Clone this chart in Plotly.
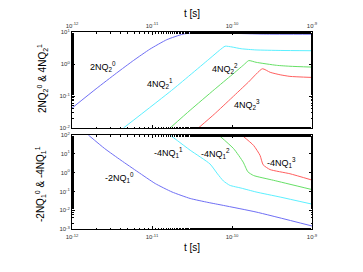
import plotly.graph_objects as go

# ---------- data ----------
# top panel: 2NQ2^0 and 4NQ2^n
t_top0 = [1.0e-12, 2.0e-12, 3.6e-12, 5.9e-12, 9.4e-12, 1.53e-11, 2.45e-11, 3.6e-11, 5.0e-11, 1.0e-10, 2.5e-10, 1.0e-9]
y_top0 = [0.042, 0.168, 0.52, 1.3, 2.9, 5.75, 8.6, 9.6, 9.6, 9.1, 8.6, 8.5]

t_top1 = [4.4e-12, 1.76e-11, 5.3e-11, 7.0e-11, 8.2e-11, 1.0e-10, 1.3e-10, 2.0e-10, 4.0e-10, 1.0e-9]
y_top1 = [0.01, 0.15, 1.5, 2.7, 3.6, 3.4, 3.0, 2.75, 2.65, 2.6]

t_top2 = [1.68e-11, 3.0e-11, 6.0e-11, 1.0e-10, 1.4e-10, 1.62e-10, 2.0e-10, 3.6e-10, 5.3e-10, 1.0e-9]
y_top2 = [0.01, 0.036, 0.158, 0.46, 0.94, 1.28, 1.13, 0.91, 0.85, 0.80]

t_top3 = [3.8e-11, 6.0e-11, 1.0e-10, 1.6e-10, 2.4e-10, 3.0e-10, 4.0e-10, 5.3e-10, 1.0e-9]
y_top3 = [0.01, 0.027, 0.089, 0.27, 0.71, 0.55, 0.46, 0.41, 0.38]

# bottom panel: -2NQ1^0 and -4NQ1^n
t_bot0 = [1.6e-12, 2.56e-12, 4.1e-12, 6.7e-12, 1.1e-11, 1.78e-11, 3.0e-11, 5.0e-11, 7.8e-11, 2.0e-10, 1.0e-9]
y_bot0 = [100, 19, 4.5, 1.07, 0.26, 0.093, 0.042, 0.026, 0.018, 0.008, 0.00145]

t_bot1 = [1.68e-11, 3.0e-11, 5.3e-11, 6.6e-11, 7.8e-11, 9.4e-11, 1.3e-10, 2.0e-10, 4.0e-10, 1.0e-9]
y_bot1 = [100, 15.5, 2.9, 0.85, 0.36, 0.21, 0.15, 0.093, 0.05, 0.021]

t_bot2 = [6.8e-11, 1.05e-10, 1.38e-10, 1.58e-10, 1.86e-10, 3.3e-10, 1.0e-9]
y_bot2 = [100, 18.6, 3.6, 1.1, 0.7, 0.39, 0.125]

t_bot3 = [1.32e-10, 1.86e-10, 2.24e-10, 2.45e-10, 2.99e-10, 5.3e-10, 1.0e-9]
y_bot3 = [100, 28, 8.3, 2.6, 1.45, 0.87, 0.4]

x_ticks = [1e-12, 1e-11, 1e-10, 1e-9]
x_ticklabels = ["10<sup>-12</sup>", "10<sup>-11</sup>", "10<sup>-10</sup>", "10<sup>-9</sup>"]
y_ticks_top = [1e-2, 1e-1, 1e0, 1e1]
y_ticklabels_top = ["10<sup>-2</sup>", "10<sup>-1</sup>", "10<sup>0</sup>", "10<sup>1</sup>"]
y_ticks_bot = [1e-3, 1e-2, 1e-1, 1e0, 1e1, 1e2]
y_ticklabels_bot = ["10<sup>-3</sup>", "10<sup>-2</sup>", "10<sup>-1</sup>", "10<sup>0</sup>",
                    "10<sup>1</sup>", "10<sup>2</sup>"]

colors = ["#6f6ff5", "#5cf0ff", "#66e066", "#ff5f5f"]

# ---------- figure ----------
W, H = 363, 272
fig = go.Figure()

for t, y, c in zip([t_top0, t_top1, t_top2, t_top3], [y_top0, y_top1, y_top2, y_top3], colors):
    fig.add_trace(go.Scatter(x=t, y=y, mode="lines", xaxis="x2", yaxis="y2",
                             line=dict(color=c, width=1, shape="spline", smoothing=0.5),
                             showlegend=False, hoverinfo="skip"))
for t, y, c in zip([t_bot0, t_bot1, t_bot2, t_bot3], [y_bot0, y_bot1, y_bot2, y_bot3], colors):
    fig.add_trace(go.Scatter(x=t, y=y, mode="lines", xaxis="x", yaxis="y",
                             line=dict(color=c, width=1, shape="spline", smoothing=0.5),
                             showlegend=False, hoverinfo="skip"))

def px_x(x):
    return x / W

def px_y(y):
    return 1 - y / H

font = "Liberation Sans, Arial, sans-serif"
tickfont = dict(size=6, color="#333", family=font)
minor = dict(ticks="inside", ticklen=1.5, tickcolor="black", tickwidth=0.6, showgrid=False)
common_axis = dict(type="log", showline=True, linecolor="black", linewidth=1, mirror="allticks",
                   ticks="inside", ticklen=3, tickcolor="black", tickwidth=0.8,
                   showgrid=False, zeroline=False, tickfont=tickfont, minor=minor,
                   automargin=False)

xdom = [px_x(72), px_x(312)]
fig.update_layout(
    width=W, height=H, margin=dict(l=0, r=0, t=0, b=0),
    paper_bgcolor="white", plot_bgcolor="white",
    font=dict(family=font, color="black"),
    xaxis=dict(domain=xdom, anchor="y", range=[-12, -9], tickvals=x_ticks, ticktext=x_ticklabels,
               ticklabelstandoff=2, **common_axis),
    yaxis=dict(domain=[px_y(229), px_y(135)], anchor="x", range=[-3, 2], tickvals=y_ticks_bot,
               ticktext=y_ticklabels_bot, **common_axis),
    xaxis2=dict(domain=xdom, anchor="y2", side="top", range=[-12, -9], tickvals=x_ticks,
                ticktext=x_ticklabels, ticklabelstandoff=1, **common_axis),
    yaxis2=dict(domain=[px_y(128), px_y(32)], anchor="x2", range=[-2, 1], tickvals=y_ticks_top,
                ticktext=y_ticklabels_top, **common_axis),
)

# axis titles
titles = [
    (192, 13, "t [s]", 0),
    (192, 247, "t [s]", 0),
    (42, 79, "2NQ<sub>2</sub><sup>0</sup> & 4NQ<sub>2</sub><sup>1</sup>", -90),
    (40, 184, "-2NQ<sub>1</sub><sup>0</sup> & -4NQ<sub>1</sub><sup>1</sup>", -90),
]
for x, y, txt, ang in titles:
    fig.add_annotation(x=px_x(x), y=px_y(y), xref="paper", yref="paper", text=txt,
                       textangle=ang, showarrow=False,
                       font=dict(size=10, color="black", family=font),
                       xanchor="center", yanchor="middle")

labels = [
    (103, 66, "2NQ<sub>2</sub><sup>0</sup>"),
    (160, 83, "4NQ<sub>2</sub><sup>1</sup>"),
    (225, 68, "4NQ<sub>2</sub><sup>2</sup>"),
    (247, 105, "4NQ<sub>2</sub><sup>3</sup>"),
    (119, 177, "-2NQ<sub>1</sub><sup>0</sup>"),
    (168, 152, "-4NQ<sub>1</sub><sup>1</sup>"),
    (215, 153, "-4NQ<sub>1</sub><sup>2</sup>"),
    (281, 162, "-4NQ<sub>1</sub><sup>3</sup>"),
]
for x, y, txt in labels:
    fig.add_annotation(x=px_x(x), y=px_y(y), xref="paper", yref="paper", text=txt,
                       showarrow=False, font=dict(size=9, color="black", family=font),
                       xanchor="center", yanchor="middle")

fig.write_html("out.html", config={"displayModeBar": False},
               post_script="document.body.style.margin='0';")
